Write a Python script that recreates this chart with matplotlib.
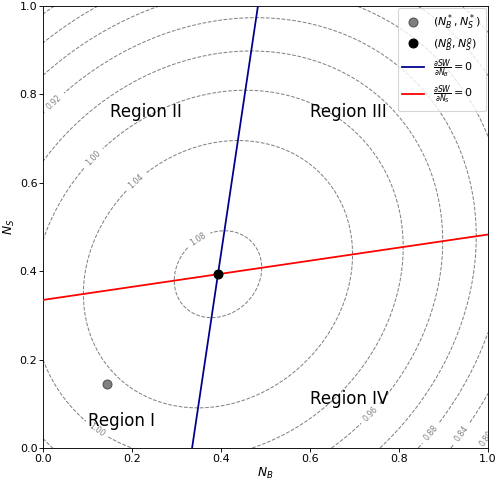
import numpy as np
import matplotlib
matplotlib.use("Agg")
import matplotlib.pyplot as plt

# Social-welfare surface parameters
sw_const = 0.953        # constant term
sw_linear = 0.335       # coefficient on N_B and N_S
sw_quad = 0.5           # coefficient on -(N_B^2 + N_S^2)
sw_cross = 0.148        # coefficient on N_B*N_S
contour_levels = [0.76, 0.80, 0.84, 0.88, 0.92, 0.96, 1.00, 1.04, 1.08]

# approximate positions of the contour labels in the reference
label_pos_x = [0.02, 0.11, 0.207, 0.346, 0.117, 0.735, 0.87, 0.937, 0.993]
label_pos_y = [0.787, 0.658, 0.606, 0.477, 0.036, 0.079, 0.036, 0.036, 0.025]

# Points
star_point = [0.144, 0.145]
opt_point = [0.393, 0.394]

# Best-response lines: N_B = a + b N_S ; N_S = a + b N_B
br_intercept = 0.335
br_slope = 0.148

region_labels = ["Region I", "Region II", "Region III", "Region IV"]
region_x = [0.10, 0.15, 0.60, 0.60]
region_y = [0.05, 0.75, 0.75, 0.10]

xticks = [0.0, 0.2, 0.4, 0.6, 0.8, 1.0]
yticks = [0.0, 0.2, 0.4, 0.6, 0.8, 1.0]

DPI = 80
fig = plt.figure(figsize=(498/DPI, 485/DPI), dpi=DPI)
ax = fig.add_axes([43/498, 1-448/485, 445/498, 442/485])

nb = np.linspace(0, 1, 401)
ns = np.linspace(0, 1, 401)
NB, NS = np.meshgrid(nb, ns)
SW = sw_const + sw_linear*(NB+NS) - sw_quad*(NB**2+NS**2) + sw_cross*NB*NS

cs = ax.contour(NB, NS, SW, levels=contour_levels, colors='gray',
                linestyles='--', linewidths=0.9)
ax.clabel(cs, inline=True, fontsize=7, fmt='%.2f',
          manual=list(zip(label_pos_x, label_pos_y)))

ax.plot(star_point[0], star_point[1], 'o', color='gray', markeredgecolor='#555555',
        markersize=8, label=r'$(N_B^*, N_S^*)$', zorder=5, linestyle='none')
ax.plot(opt_point[0], opt_point[1], 'o', color='black',
        markersize=8, label=r'$(N_B^o, N_S^o)$', zorder=6, linestyle='none')

ys = np.array([0.0, 1.0])
ax.plot(br_intercept + br_slope*ys, ys, color='darkblue', lw=1.6,
        label=r'$\frac{\partial SW}{\partial N_B}=0$', zorder=4)
xs = np.array([0.0, 1.0])
ax.plot(xs, br_intercept + br_slope*xs, color='red', lw=1.6,
        label=r'$\frac{\partial SW}{\partial N_S}=0$', zorder=4)

for t, x, y in zip(region_labels, region_x, region_y):
    ax.text(x, y, t, fontsize=15)

ax.set_xlim(0, 1)
ax.set_ylim(0, 1)
ax.set_xticks(xticks)
ax.set_yticks(yticks)
ax.tick_params(axis='both', pad=1.5)
ax.set_xlabel(r'$N_B$', fontsize=11, labelpad=2)
ax.set_ylabel(r'$N_S$', fontsize=11, labelpad=2)
ax.legend(loc='upper right', borderaxespad=0.2, labelspacing=0.35)

fig.savefig('out.png', dpi=DPI)
